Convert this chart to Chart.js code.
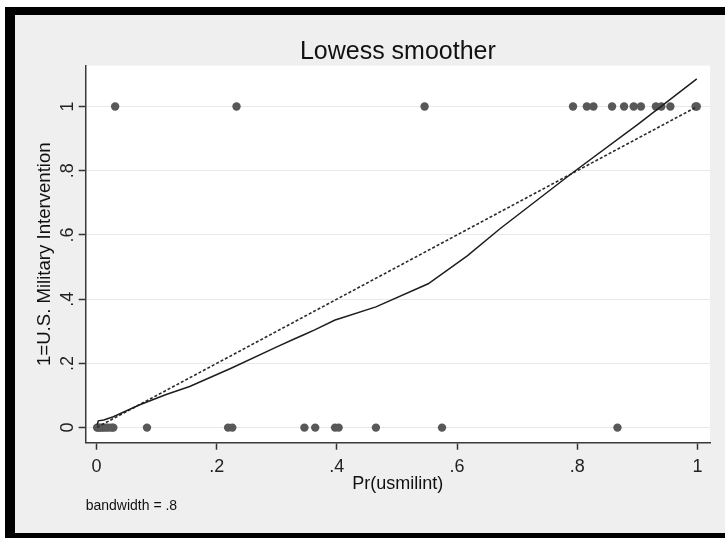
<!DOCTYPE html>
<html>
<head>
<meta charset="utf-8">
<script src="https://cdn.jsdelivr.net/npm/chart.js@4.4.1/dist/chart.umd.min.js"></script>
<style>
  html, body { margin: 0; padding: 0; background: #fff; }
  #frame {
    position: absolute; left: 5px; top: 7px;
    width: 710px; height: 518px;
    border-left: 10px solid #000; border-top: 8px solid #000; border-bottom: 5px solid #000;
    background: #efefef;
  }
</style>
</head>
<body>
<div id="frame"><canvas id="myChart" width="710" height="518"></canvas></div>
<script>
// observations with y = 1 (intervention) and y = 0
const interventionX = [0.031, 0.233, 0.546, 0.793, 0.816, 0.827, 0.858, 0.878, 0.894, 0.906, 0.931, 0.940, 0.955, 0.997, 0.999];
const noInterventionX = [0.001, 0.003, 0.006, 0.009, 0.012, 0.016, 0.020, 0.025, 0.028, 0.084, 0.219, 0.226, 0.346, 0.364, 0.397, 0.403, 0.465, 0.575, 0.867];

// lowess smoothed curve
const lowessX = [0.001, 0.003, 0.012, 0.028, 0.072, 0.116, 0.155, 0.224, 0.301, 0.328, 0.346, 0.364, 0.397, 0.405, 0.465, 0.552, 0.617, 0.672, 0.794, 0.902, 0.999];
const lowessY = [0.008, 0.021, 0.024, 0.034, 0.071, 0.103, 0.128, 0.185, 0.252, 0.275, 0.290, 0.305, 0.335, 0.340, 0.376, 0.448, 0.535, 0.620, 0.796, 0.946, 1.086];

// 45 degree reference line
const refX = [0.001, 0.999];
const refY = [0.001, 0.999];

const xTickValues = [0, 0.2, 0.4, 0.6, 0.8, 1];
const xTickLabels = ['0', '.2', '.4', '.6', '.8', '1'];
const yTickValues = [0, 0.2, 0.4, 0.6, 0.8, 1];
const yTickLabels = ['0', '.2', '.4', '.6', '.8', '1'];

Chart.defaults.font.family = "'Liberation Sans', Arial, sans-serif";
Chart.defaults.color = '#222';

const ctx = document.getElementById('myChart').getContext('2d');

const plotBg = {
    id: 'plotBg',
    beforeDraw(chart) {
        const a = chart.chartArea;
        chart.ctx.save();
        chart.ctx.fillStyle = '#fff';
        chart.ctx.fillRect(a.left, a.top, a.right - a.left, a.bottom - a.top);
        chart.ctx.restore();
    }
};

const config = {
    type: 'scatter',
    data: {
        datasets: [
            {
                label: 'lowess',
                data: lowessX.map((x, i) => ({x: x, y: lowessY[i]})),
                showLine: true,
                borderColor: '#1e1e1e',
                borderWidth: 1.5,
                pointRadius: 0,
                fill: false,
            },
            {
                label: 'reference',
                data: refX.map((x, i) => ({x: x, y: refY[i]})),
                showLine: true,
                borderColor: '#2a2a2a',
                borderWidth: 1.6,
                borderDash: [3, 2],
                pointRadius: 0,
                fill: false,
            },
            {
                label: 'y=1',
                data: interventionX.map(x => ({x: x, y: 1})),
                pointRadius: 4.2,
                backgroundColor: '#585858',
                borderWidth: 0,
            },
            {
                label: 'y=0',
                data: noInterventionX.map(x => ({x: x, y: 0})),
                pointRadius: 4.2,
                backgroundColor: '#585858',
                borderWidth: 0,
            },
        ],
    },
    options: {
        responsive: false,
        animation: false,
        layout: { padding: { left: 0, right: 15, top: 0, bottom: 0 } },
        plugins: {
            legend: { display: false },
            tooltip: { enabled: false },
            title: {
                display: true,
                text: 'Lowess smoother',
                fullSize: false,
                color: '#111',
                font: { size: 25, weight: 'normal', lineHeight: 1 },
                padding: { top: 24.5, bottom: 1.2 },
            },
            subtitle: {
                display: true,
                text: 'bandwidth = .8',
                position: 'bottom',
                align: 'start',
                fullSize: false,
                color: '#111',
                font: { size: 14, weight: 'normal' },
                padding: { top: 1.6, bottom: 18 },
            },
        },
        scales: {
            x: {
                type: 'linear',
                position: 'bottom',
                min: -0.018,
                max: 1.021,
                afterBuildTicks: (scale) => { scale.ticks = xTickValues.map(v => ({value: v})); },
                afterFit: (scale) => { scale.height = 53.9; },
                ticks: {
                    callback: (value, index) => xTickLabels[index],
                    font: { size: 18 },
                    padding: 6.5,
                    maxRotation: 0,
                },
                grid: { drawOnChartArea: false, tickLength: 7, tickColor: '#333', tickWidth: 1.5 },
                border: { display: true, color: '#3a3a3a', width: 1.5 },
                title: {
                    display: true,
                    text: 'Pr(usmilint)',
                    color: '#111',
                    font: { size: 18 },
                    padding: { top: 0, bottom: 2.2 },
                },
            },
            y: {
                type: 'linear',
                min: -0.047,
                max: 1.127,
                afterBuildTicks: (scale) => { scale.ticks = yTickValues.map(v => ({value: v})); },
                afterFit: (scale) => { scale.width = 70.7; },
                ticks: {
                    callback: (value, index) => yTickLabels[index],
                    font: { size: 18 },
                    minRotation: 90,
                    maxRotation: 90,
                    crossAlign: 'center',
                    padding: 3,
                },
                grid: { color: '#e8e8e8', lineWidth: 1, tickLength: 7, tickColor: '#333', tickWidth: 1.5 },
                border: { display: true, color: '#3a3a3a', width: 1.5 },
                title: {
                    display: true,
                    text: '1=U.S. Military Intervention',
                    color: '#111',
                    font: { size: 18.6 },
                    padding: { top: 18.9, bottom: 0 },
                },
            },
        },
    },
    plugins: [plotBg],
};

const chart = new Chart(ctx, config);
</script>
</body>
</html>
